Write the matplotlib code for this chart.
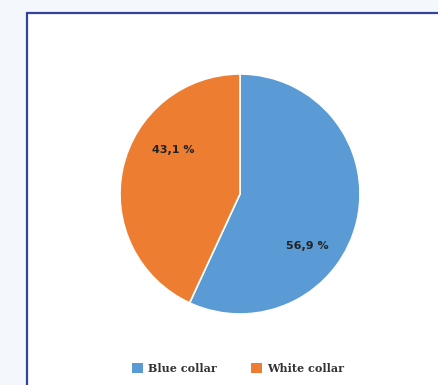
import matplotlib
matplotlib.use("Agg")
import matplotlib.pyplot as plt
from matplotlib.patches import Rectangle, Patch

categories = ["Blue collar", "White collar"]
values = [56.9, 43.1]
labels = ["56,9 %", "43,1 %"]
colors = ["#5b9bd5", "#ed7d31"]

W, H = 439, 385
fig = plt.figure(figsize=(W / 100, H / 100), dpi=100)
fig.patch.set_facecolor("#f4f8fc")

# white panel with blue frame
fig.patches.append(Rectangle((27 / W, -0.05), 1.0, (H - 13) / H + 0.05,
                             transform=fig.transFigure, facecolor="white",
                             edgecolor="#34449c", linewidth=1.6, zorder=-5))

cx, cy, r = 240, 194, 120
half = 1.2 * r
ax = fig.add_axes([(cx - half) / W, (H - cy - half) / H, 2 * half / W, 2 * half / H])
ax.set_zorder(2)
ax.set_facecolor("none")
wedges, _ = ax.pie(values, colors=colors, startangle=90, counterclock=False,
                   wedgeprops=dict(edgecolor="white", linewidth=1.2))
ax.set_xlim(-1.2, 1.2)
ax.set_ylim(-1.2, 1.2)
ax.set_aspect("equal")
ax.axis("off")

label_pos = [(0.56, -0.43), (-0.56, 0.37)]
for lab, (x, y) in zip(labels, label_pos):
    ax.text(x, y, lab, ha="center", va="center", fontsize=8,
            fontweight="bold", color="#222222", family="DejaVu Sans")

handles = [Patch(facecolor=c, edgecolor="none") for c in colors]
leg = fig.legend(handles, categories, loc="center", bbox_to_anchor=(238 / W, 1 - 368 / H),
                 ncol=2, frameon=False, prop=dict(family="DejaVu Serif", size=8, weight="bold"),
                 handlelength=1.0, handleheight=1.0, columnspacing=3.0, handletextpad=0.5,
                 labelcolor="#333333")
leg.set_zorder(3)

fig.savefig("out.png", dpi=100)
